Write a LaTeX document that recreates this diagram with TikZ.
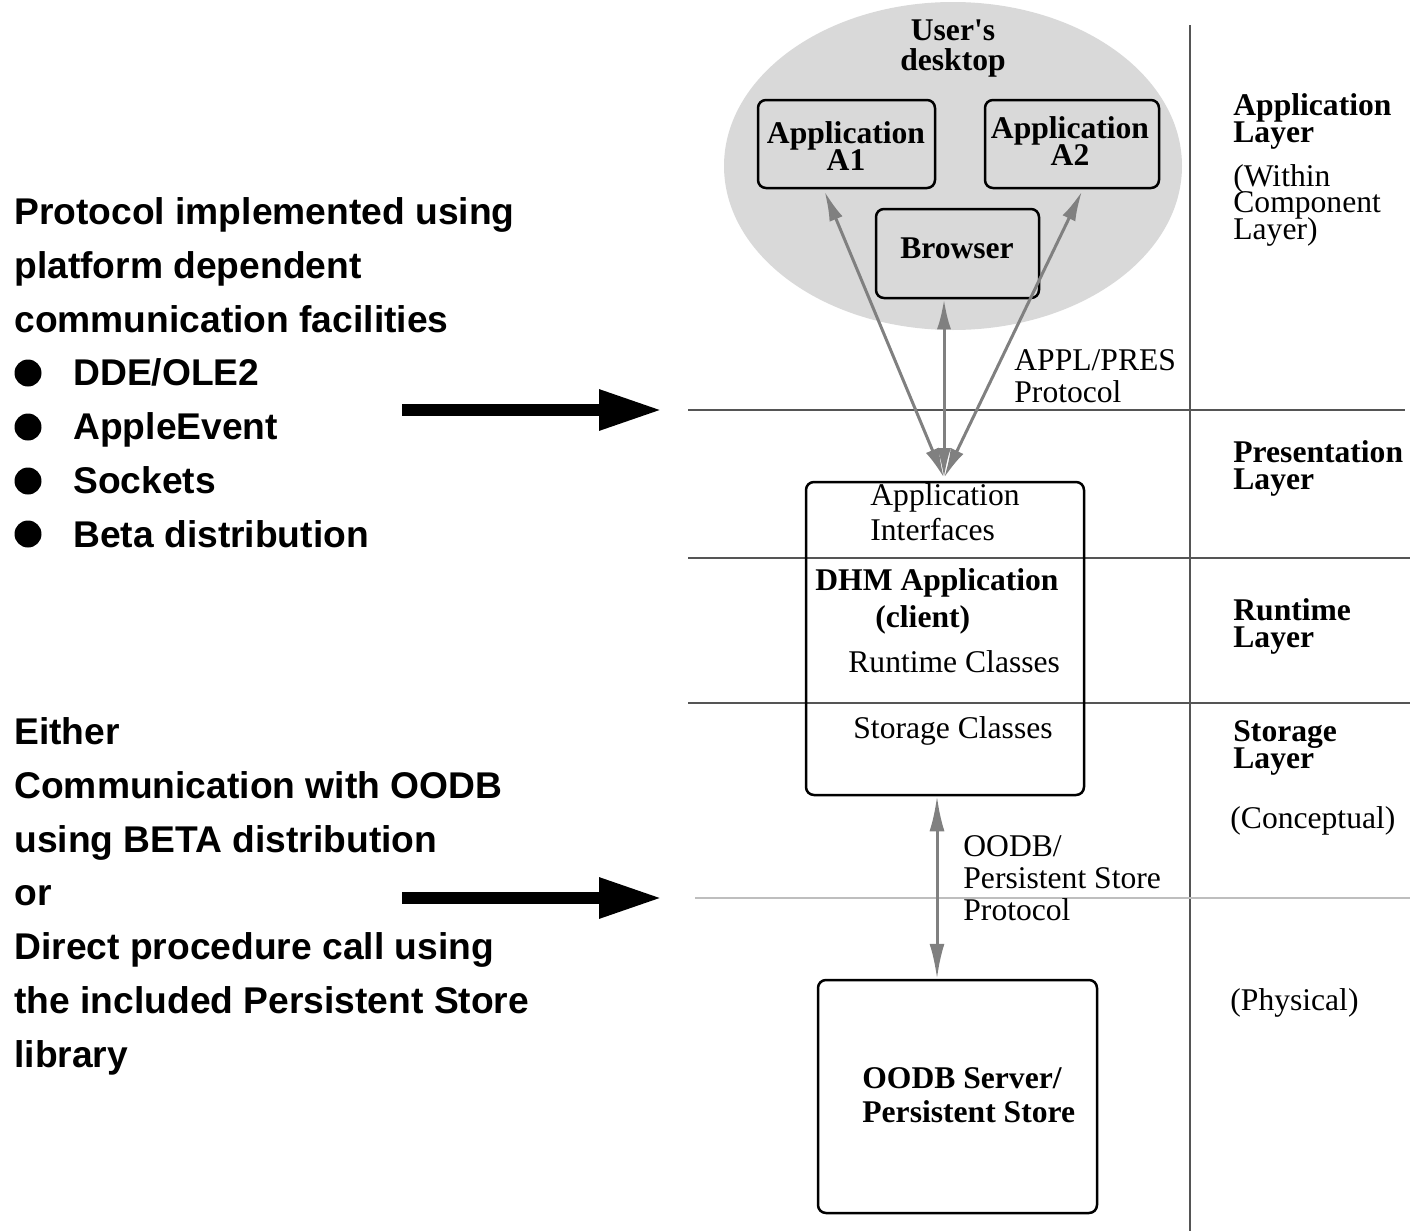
\documentclass[tikz,border=0pt]{standalone}
\usepackage{fontspec}
\setmainfont{Liberation Serif}
\newfontfamily\notefont{Liberation Sans}
\usetikzlibrary{arrows.meta,shapes.geometric,calc}
\definecolor{deskgray}{RGB}{217,217,217}
\definecolor{arrowgray}{RGB}{128,128,128}
\definecolor{rulegray}{RGB}{85,85,85}
\definecolor{palegray}{RGB}{190,190,190}
% fixed line pitch, even where lines nearly touch
\newcommand\fixedpitch{\lineskiplimit=-100pt\lineskip=0pt}
\begin{document}
\begin{tikzpicture}[x=0.5pt,y=-0.5pt,
  note/.style={font=\notefont\bfseries\fontsize{18.6}{26.85}\selectfont,
    anchor=base west, inner sep=0, align=left},
  bullet/.style={circle, fill=black, inner sep=0, minimum size=13.5pt},
  boldlbl/.style={font=\bfseries\fontsize{15.8}{13.5}\selectfont\fixedpitch, inner sep=0},
  plainlbl/.style={font=\fontsize{15.8}{15.8}\selectfont\fixedpitch, inner sep=0},
  tightlbl/.style={font=\fontsize{15.8}{13.2}\selectfont\fixedpitch, inner sep=0},
  frame/.style={draw=black, line width=1.25pt, rounded corners=4pt, inner sep=0},
  proto/.style={draw=arrowgray, line width=1.5pt,
    {Latex[length=15pt,width=7pt]}-{Latex[length=15pt,width=7pt]}},
  storeproto/.style={draw=arrowgray, line width=1.5pt,
    {Latex[length=17.5pt,width=7.5pt]}-{Latex[length=17.5pt,width=7.5pt]}},
  bigarrow/.style={line width=6pt, -{Triangle[length=31.5pt,width=19pt]}},
  divider/.style={draw=rulegray, line width=1.2pt},
  softdivider/.style={draw=palegray, line width=1.2pt}]
\useasboundingbox (0,0) rectangle (1410,1231);
% multi-line labels are placed by the baseline of their last line

% layer grid
\draw[divider] (1190,25) -- (1190,1231);
\draw[divider] (688,410) -- (1405,410);
\draw[divider] (688,558) -- (1410,558);
\draw[divider] (688,703) -- (1410,703);
\draw[softdivider] (695,898) -- (1410,898);

% desktop with its applications
\node[ellipse, fill=deskgray, inner sep=0, minimum width=229pt, minimum height=164pt] (desk) at (953,166) {};
\node[boldlbl, align=center, anchor=base, font=\bfseries\fontsize{15.8}{15}\selectfont\fixedpitch] (desklbl) at (953,70) {User\textquotesingle s\\desktop};
\node[frame, minimum width=88.5pt, minimum height=44pt] (A1) at (846.5,144) {};
\node[frame, minimum width=87pt, minimum height=44pt] (A2) at (1072,144) {};
\node[frame, minimum width=81.5pt, minimum height=44.5pt] (browser) at (957.5,253.5) {};
\node[boldlbl, align=center, anchor=base] (A1lbl) at (846,170) {Application\\A1};
\node[boldlbl, align=center, anchor=base] (A2lbl) at (1070,165) {Application\\A2};
\node[boldlbl, anchor=base] (browserlbl) at (957,258) {Browser};

% DHM client
\node[frame, minimum width=139pt, minimum height=156.5pt] (dhm) at (945,638.5) {};
\node[plainlbl, align=left, anchor=base west, font=\fontsize{15.8}{17.5}\selectfont\fixedpitch] (ifacelbl) at (870,540) {Application\\Interfaces};
\node[boldlbl, anchor=base west] (dhmlbl) at (815,590) {DHM Application};
\node[boldlbl, anchor=base west] (clientlbl) at (875,627) {(client)};
\node[plainlbl, anchor=base west] (rtlbl) at (848,672) {Runtime Classes};
\node[plainlbl, anchor=base west] (stlbl) at (853,738) {Storage Classes};

% persistent store
\node[frame, minimum width=139.5pt, minimum height=116.5pt] (store) at (957.5,1096.5) {};
\node[boldlbl, align=left, anchor=base west, font=\bfseries\fontsize{15.8}{17}\selectfont\fixedpitch] (storelbl) at (862,1122) {OODB Server/\\Persistent Store};

% protocol connectors
\coordinate (ai) at (944,478);
\draw[proto] (ai) -- ($(A1.south)+(-22,2)$);
\draw[proto] (ai) -- (ai |- browser.south);
\draw[proto] (ai) -- ($(A2.south)+(10,2)$);
\node[plainlbl, align=left, anchor=base west] (applpres) at (1014,402) {APPL/PRES\\Protocol};
\draw[storeproto] (dhm.south -| 937,0) -- (store.north -| 937,0);
\node[plainlbl, align=left, anchor=base west] (oodbproto) at (963,920) {OODB/\\Persistent Store\\Protocol};

% layer names
\node[boldlbl, align=left, anchor=base west] (applayer) at (1233,142) {Application\\Layer};
\node[tightlbl, align=left, anchor=base west] (within) at (1233,239) {(Within\\Component\\Layer)};
\node[boldlbl, align=left, anchor=base west] (preslayer) at (1233,489) {Presentation\\Layer};
\node[boldlbl, align=left, anchor=base west] (rtlayer) at (1233,647) {Runtime\\Layer};
\node[boldlbl, align=left, anchor=base west] (stlayer) at (1233,768) {Storage\\Layer};
\node[plainlbl, anchor=base west] (concept) at (1230,828) {(Conceptual)};
\node[plainlbl, anchor=base west] (physical) at (1230,1010) {(Physical)};

% notes on the left
\node[note] (platform) at (14,332) {Protocol implemented using\\platform dependent\\communication facilities};
\node[note] (mechs) at (73,547) {DDE/OLE2\\AppleEvent\\Sockets\\Beta distribution};
\node[bullet] (b1) at (28,373) {};
\node[bullet] (b2) at (28,427) {};
\node[bullet] (b3) at (28,481) {};
\node[bullet] (b4) at (28,534) {};
\node[note] (oodbnote) at (14,1067) {Either\\Communication with OODB\\using BETA distribution\\or\\Direct procedure call using\\the included Persistent Store\\library};

% pointers to the protocol levels
\coordinate (p1s) at (402,410);
\coordinate (p1e) at (662,410);
\coordinate (p2s) at (402,898);
\coordinate (p2e) at (662,898);
\draw[bigarrow] (p1s) -- (p1e);
\draw[bigarrow] (p2s) -- (p2e);
\end{tikzpicture}
\end{document}
